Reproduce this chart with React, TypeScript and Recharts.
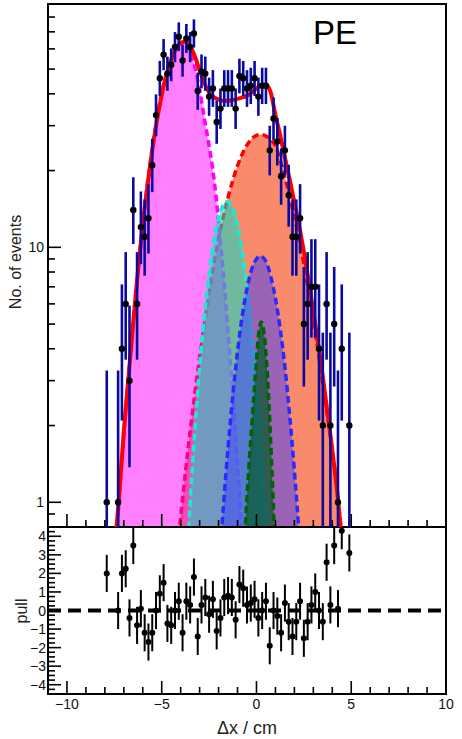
import React from "react";
import {
  ComposedChart,
  Area,
  Line,
  Scatter,
  XAxis,
  YAxis,
  ErrorBar,
  ReferenceArea,
  ReferenceLine,
} from "recharts";

const FONT = '"Liberation Sans", Arial, Helvetica, sans-serif';

// histogram bins (cm), counts and pulls
const binCenters = [
  -7.9, -7.7, -7.5, -7.3, -7.1, -6.9, -6.7, -6.5, -6.3, -6.1,
  -5.9, -5.7, -5.5, -5.3, -5.1, -4.9, -4.7, -4.5, -4.3, -4.1,
  -3.9, -3.7, -3.5, -3.3, -3.1, -2.9, -2.7, -2.5, -2.3, -2.1,
  -1.9, -1.7, -1.5, -1.3, -1.1, -0.9, -0.7, -0.5, -0.3, -0.1,
  0.1, 0.3, 0.5, 0.7, 0.9, 1.1, 1.3, 1.5, 1.7, 1.9,
  2.1, 2.3, 2.5, 2.7, 2.9, 3.1, 3.3, 3.5, 3.7, 3.9,
  4.1, 4.3, 4.5, 4.7, 4.9,
];
const counts = [
  1, 0, 0, 1, 4, 6, 3, 14, 6, 12,
  11, 13, 21, 33, 46, 57, 48, 52, 61, 67,
  54, 66, 61, 69, 41, 49, 48, 39, 42, 31,
  35, 42, 42, 42, 35, 47, 46, 42, 43, 46,
  39, 43, 43, 24, 32, 26, 19, 24, 16, 11,
  11, 13, 5, 6, 7, 7, 4, 2, 6, 2,
  5, 1, 4, 0, 2,
];
const pulls: (number | null)[] = [
  2.0, null, null, 0.0, 2.0, 2.25, -0.4, 3.5, -0.8, 0.1,
  -1.2, -1.7, -1.2, 0.0, 0.9, 1.5, -0.7, -0.8, 0.0, 0.5,
  -1.2, 0.5, 0.3, 1.8, -1.4, 0.3, 0.7, -0.2, 0.6, -1.1,
  -0.4, 0.7, 0.8, 0.7, -0.5, 1.4, 1.2, 0.3, 0.4, 0.6,
  -0.4, 0.0, 0.5, -1.9, 0.0, -0.3, -1.2, 0.4, -0.6, -1.4,
  -0.6, 0.5, -1.5, -0.6, 0.3, 1.0, 0.0, -0.6, 2.6, 0.3,
  3.5, 0.1, 4.3, null, 3.1,
];

// fit curves: [x, events]
const fitTotal: [number, number][] = [
  [-7.45, 0.7], [-7.25, 1.05], [-7.0, 1.9], [-6.75, 3.1], [-6.5, 5.1], [-6.25, 8.1],
  [-6.0, 12.3], [-5.75, 17.5], [-5.5, 24], [-5.25, 31.5], [-5.0, 39.5], [-4.75, 47.5],
  [-4.5, 54.5], [-4.25, 60], [-4.0, 63.5], [-3.75, 64], [-3.5, 61.5], [-3.25, 56],
  [-3.0, 49.5], [-2.75, 44], [-2.5, 40.5], [-2.25, 38.8], [-2.0, 38], [-1.75, 37.6],
  [-1.5, 37.6], [-1.25, 37.8], [-1.0, 38.2], [-0.75, 38.7], [-0.5, 39.3], [-0.25, 40.5],
  [0.0, 42], [0.25, 43.3], [0.5, 43.3], [0.75, 40.5], [1.0, 33], [1.25, 27.5],
  [1.5, 22.5], [1.75, 18.5], [2.0, 15], [2.25, 12.2], [2.5, 9.6], [2.75, 7.4],
  [3.0, 5.6], [3.25, 4.2], [3.5, 3.1], [3.75, 2.25], [4.0, 1.6], [4.25, 1.12], [4.5, 0.72],
];
const fitSalmon: [number, number][] = [
  [-4.5, 0.37], [-4.25, 0.58], [-4.0, 0.88], [-3.5, 1.9], [-3.0, 3.7], [-2.5, 6.6],
  [-2.0, 10.8], [-1.5, 15.7], [-1.0, 20.9], [-0.5, 25.2], [0.0, 27.5], [0.25, 27.7],
  [0.5, 27.3], [0.75, 26.5], [1.0, 25], [1.25, 22], [1.5, 18.8], [1.75, 15.8],
  [2.0, 13.2], [2.5, 8.6], [3.0, 5.2], [3.5, 2.9], [4.0, 1.6], [4.25, 1.12],
  [4.5, 0.74], [4.75, 0.45],
];
const fitMagenta: [number, number][] = [
  [-7.75, 0.27], [-7.5, 0.53], [-7.25, 1.01], [-7.0, 1.83], [-6.75, 3.16], [-6.5, 5.2],
  [-6.25, 8.2], [-6.0, 12.4], [-5.75, 17.9], [-5.5, 24.5], [-5.25, 32], [-5.0, 40.4],
  [-4.75, 48], [-4.5, 55], [-4.25, 60.3], [-4.0, 62.8], [-3.75, 62.6], [-3.5, 58.7],
  [-3.25, 51], [-3.0, 41.5], [-2.75, 32], [-2.5, 25], [-2.25, 18.8], [-2.0, 12.6],
  [-1.75, 7.9], [-1.5, 4.7], [-1.25, 2.65], [-1.0, 1.42], [-0.75, 0.72], [-0.5, 0.34],
];
const fitCyan: [number, number][] = [
  [-3.75, 0.48], [-3.5, 1.0], [-3.25, 1.92], [-3.0, 3.4], [-2.75, 5.4], [-2.5, 7.9],
  [-2.25, 10.7], [-2.0, 13.1], [-1.75, 14.7], [-1.55, 15.1], [-1.25, 14.2], [-1.0, 12.2],
  [-0.75, 9.6], [-0.5, 6.9], [-0.25, 4.5], [0.0, 2.72], [0.25, 1.5], [0.5, 0.75], [0.75, 0.35],
];
const fitBlue: [number, number][] = [
  [-2.25, 0.25], [-2.0, 0.51], [-1.75, 0.95], [-1.5, 1.64], [-1.25, 2.62], [-1.0, 3.9],
  [-0.75, 5.4], [-0.5, 6.9], [-0.25, 8.2], [0.0, 9.0], [0.2, 9.25], [0.5, 8.8],
  [0.75, 7.7], [1.0, 6.3], [1.25, 4.8], [1.5, 3.4], [1.75, 2.2], [2.0, 1.33],
  [2.25, 0.75], [2.5, 0.39],
];
const fitGreen: [number, number][] = [
  [-0.75, 0.5], [-0.5, 1.05], [-0.25, 2.0], [0.0, 3.6], [0.1, 4.5], [0.25, 5.1],
  [0.4, 4.6], [0.55, 3.4], [0.7, 2.1], [0.85, 1.15], [1.0, 0.6], [1.15, 0.3],
];

// axis ticks
const xTicks = [-10, -9, -8, -7, -6, -5, -4, -3, -2, -1, 0, 1, 2, 3, 4, 5, 6, 7, 8, 9, 10];
const logTicks = [0.9, 1, 2, 3, 4, 5, 6, 7, 8, 9, 10, 20, 30, 40, 50, 60, 70, 80, 90];
const logLabels = [1, 10];
const pullTicks = [
  -4.5, -4.25, -4, -3.75, -3.5, -3.25, -3, -2.75, -2.5, -2.25, -2, -1.75, -1.5, -1.25,
  -1, -0.75, -0.5, -0.25, 0, 0.25, 0.5, 0.75, 1, 1.25, 1.5, 1.75, 2, 2.25, 2.5, 2.75,
  3, 3.25, 3.5, 3.75, 4, 4.25, 4.5,
];
const pullLabels = [-4, -3, -2, -1, 0, 1, 2, 3, 4];

const X_MIN = -11;
const X_MAX = 10;
const Y_MIN = 0.8;
const Y_MAX = 90;
const P_MIN = -4.5;
const P_MAX = 4.5;

const toPts = (arr: [number, number][]) => arr.map(([x, y]) => ({ x, y }));

// Poisson 68% interval (Wilson-Hilferty form of the Garwood limits)
const poissonBand = (n: number) => {
  const lo = n * Math.pow(1 - 1 / (9 * n) - 1 / (3 * Math.sqrt(n)), 3);
  const m = n + 1;
  const hi = m * Math.pow(1 - 1 / (9 * m) + 1 / (3 * Math.sqrt(m)), 3);
  return [lo, hi];
};

const dataPts = binCenters
  .map((x, i) => ({ x, n: counts[i] }))
  .filter((d) => d.n > 0)
  .map(({ x, n }) => {
    const [lo, hi] = poissonBand(n);
    return { x, y: n, err: [n - Math.max(lo, Y_MIN), Math.min(hi, Y_MAX) - n] };
  });

const pullPts = binCenters
  .map((x, i) => ({ x, p: pulls[i] }))
  .filter((d) => d.p !== null)
  .map(({ x, p }) => {
    const v = p as number;
    return { x, y: v, err: [Math.min(1, v - P_MIN), Math.min(1, P_MAX - v)] };
  });

const fmt = (v: number) => (v < 0 ? "\u2212" + Math.abs(v) : String(v));

const XTick = (props: any) => {
  const { x, y, payload, showLabel } = props;
  const v = payload.value;
  const major = v % 5 === 0;
  return (
    <g>
      <line x1={x} x2={x} y1={y} y2={y - (major ? 13 : 7)} stroke="#000" strokeWidth={1.6} />
      {showLabel && major && (
        <text x={x} y={y + 15} textAnchor="middle" fontSize={14} fontFamily={FONT} fill="#111">
          {fmt(v)}
        </text>
      )}
    </g>
  );
};

const YTickFactory = (labels: number[], gap: number) => (props: any) => {
  const { x, y, payload } = props;
  const v = payload.value;
  const major = labels.includes(v);
  return (
    <g>
      <line x1={x + gap} x2={x + gap + (major ? 13 : 7)} y1={y} y2={y} stroke="#000" strokeWidth={1.6} />
      {major && (
        <text x={x} y={y} dy="0.36em" textAnchor="end" fontSize={14} fontFamily={FONT} fill="#111">
          {fmt(v)}
        </text>
      )}
    </g>
  );
};

const LogTick = YTickFactory(logLabels, 4);
const PullTick = YTickFactory(pullLabels, 2);

const dot = (p: any) => <circle cx={p.cx} cy={p.cy} r={3.2} fill="#000" />;
const pullDot = (p: any) => <circle cx={p.cx} cy={p.cy} r={3} fill="#000" />;

const dash = "7 4";

export default function App() {
  return (
    <div style={{ position: "absolute", left: 0, top: 0, width: 462, height: 739, background: "#fff" }}>
      <div style={{ position: "absolute", left: 0, top: 0 }}>
        <ComposedChart width={462} height={528} margin={{ top: 4, right: 16, bottom: 0, left: 8 }}>
          <XAxis
            type="number"
            dataKey="x"
            domain={[X_MIN, X_MAX]}
            allowDataOverflow
            ticks={xTicks}
            interval={0}
            height={1}
            tickSize={0}
            tickMargin={0}
            tickLine={false}
            axisLine={false}
            tick={<XTick showLabel={false} />}
          />
          <YAxis
            type="number"
            dataKey="y"
            scale="log"
            domain={[Y_MIN, Y_MAX]}
            allowDataOverflow
            ticks={logTicks}
            interval={0}
            width={40}
            tickSize={0}
            tickMargin={4}
            tickLine={false}
            axisLine={false}
            tick={<LogTick />}
          />
          <Area data={toPts(fitSalmon)} dataKey="y" type="monotone" baseValue={Y_MIN}
            fill="#f73c0a" fillOpacity={0.6} stroke="#ff0000" strokeWidth={3.5}
            strokeDasharray={dash} isAnimationActive={false} />
          <Area data={toPts(fitMagenta)} dataKey="y" type="monotone" baseValue={Y_MIN}
            fill="#ff00ff" fillOpacity={0.5} stroke="#ff00ff" strokeWidth={3.5}
            strokeDasharray={dash} isAnimationActive={false} />
          <Area data={toPts(fitCyan)} dataKey="y" type="monotone" baseValue={Y_MIN}
            fill="#00e0c8" fillOpacity={0.55} stroke="#10f0d0" strokeWidth={3.5}
            strokeDasharray={dash} isAnimationActive={false} />
          <Area data={toPts(fitBlue)} dataKey="y" type="monotone" baseValue={Y_MIN}
            fill="#3c3cff" fillOpacity={0.5} stroke="#2a2aff" strokeWidth={3.5}
            strokeDasharray={dash} isAnimationActive={false} />
          <Area data={toPts(fitGreen)} dataKey="y" type="monotone" baseValue={Y_MIN}
            fill="#005a28" fillOpacity={0.7} stroke="#006400" strokeWidth={3.5}
            strokeDasharray={dash} isAnimationActive={false} />
          <Line data={toPts(fitTotal)} dataKey="y" type="monotone" stroke="#ff0000"
            strokeWidth={4} dot={false} isAnimationActive={false} />
          <Scatter data={dataPts} dataKey="y" shape={dot} isAnimationActive={false}>
            <ErrorBar dataKey="err" direction="y" width={0} stroke="#0a0aa0" strokeWidth={2.6} />
          </Scatter>
          <ReferenceArea x1={X_MIN} x2={X_MAX} y1={Y_MIN} y2={Y_MAX} fill="none"
            stroke="#000" strokeWidth={2} ifOverflow="visible" />
        </ComposedChart>
      </div>
      <div style={{ position: "absolute", left: 0, top: 527 }}>
        <ComposedChart width={462} height={212} margin={{ top: 0, right: 16, bottom: 0, left: 8 }}>
          <XAxis
            type="number"
            dataKey="x"
            domain={[X_MIN, X_MAX]}
            allowDataOverflow
            ticks={xTicks}
            interval={0}
            height={45}
            tickSize={0}
            tickMargin={0}
            tickLine={false}
            axisLine={false}
            tick={<XTick showLabel />}
          />
          <YAxis
            type="number"
            dataKey="y"
            domain={[P_MIN, P_MAX]}
            allowDataOverflow
            ticks={pullTicks}
            interval={0}
            width={40}
            tickSize={0}
            tickMargin={2}
            tickLine={false}
            axisLine={false}
            tick={<PullTick />}
          />
          <ReferenceLine y={0} stroke="#000" strokeWidth={4} strokeDasharray="13 7" />
          <Scatter data={pullPts} dataKey="y" shape={pullDot} isAnimationActive={false}>
            <ErrorBar dataKey="err" direction="y" width={0} stroke="#000" strokeWidth={2} />
          </Scatter>
          <ReferenceArea x1={X_MIN} x2={X_MAX} y1={P_MIN} y2={P_MAX} fill="none"
            stroke="#000" strokeWidth={2} ifOverflow="visible" />
        </ComposedChart>
      </div>
      <svg width={462} height={739} style={{ position: "absolute", left: 0, top: 0, pointerEvents: "none" }}>
        <text x={313} y={44} fontSize={33} fontFamily={FONT} fill="#000">PE</text>
        <text transform="translate(21,262) rotate(-90)" textAnchor="middle" fontSize={16}
          fontFamily={FONT} fill="#222">No. of events</text>
        <text transform="translate(27,611) rotate(-90)" textAnchor="middle" fontSize={16}
          fontFamily={FONT} fill="#222">pull</text>
        <text x={247} y={734} textAnchor="middle" fontSize={18} fontFamily={FONT} fill="#222">
          Δx / cm
        </text>
      </svg>
    </div>
  );
}
